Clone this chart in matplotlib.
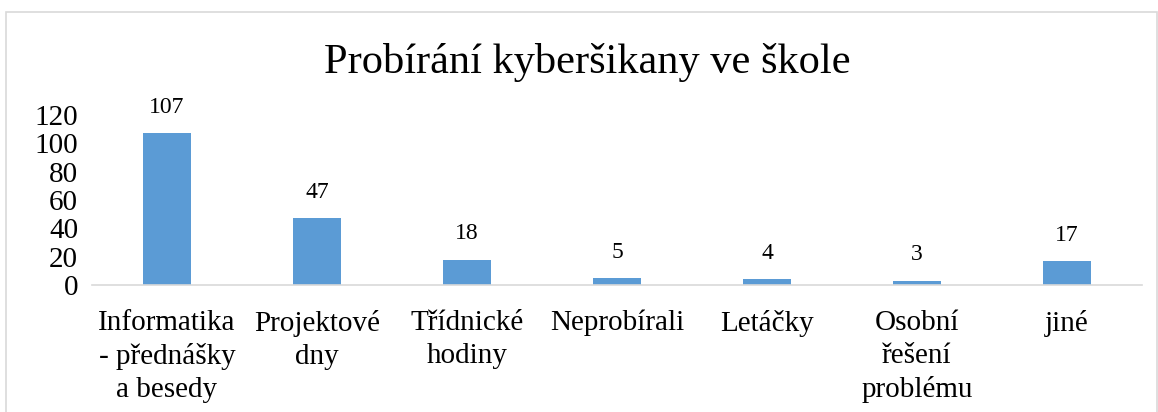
import matplotlib
matplotlib.use("Agg")
import matplotlib.pyplot as plt
from matplotlib.patches import Rectangle

categories = ["Informatika\n- přednášky\na besedy", "Projektové\ndny", "Třídnické\nhodiny",
              "Neprobírali", "Letáčky", "Osobní\nřešení\nproblému", "jiné"]
values = [107, 47, 18, 5, 4, 3, 17]
yticks = [0, 20, 40, 60, 80, 100, 120]

plt.rcParams['font.family'] = ['Liberation Serif', 'DejaVu Serif']

W, H = 1158, 412
fig = plt.figure(figsize=(W / 100, H / 100), dpi=100)

# chart border
fig.patches.append(Rectangle((6 / W, -0.1), (1157 - 6) / W, (H - 12) / H + 0.1,
                             transform=fig.transFigure, fill=False,
                             edgecolor='#d9d9d9', linewidth=1.2))

ax = fig.add_axes([92 / W, 127 / H, (1142 - 92) / W, 170 / H])
x = list(range(len(values)))
bars = ax.bar(x, values, width=0.32, color='#5B9BD5')
ax.set_xlim(-0.5, len(values) - 0.5)
ax.set_ylim(0, 120)
ax.set_yticks(yticks)
ax.set_yticklabels([str(t) for t in yticks], fontsize=21)
ax.set_xticks(x)
ax.set_xticklabels(categories, fontsize=21, linespacing=1.34)
ax.tick_params(axis='both', length=0)
ax.tick_params(axis='x', pad=18)
ax.tick_params(axis='y', pad=10)
for s in ['top', 'right', 'left']:
    ax.spines[s].set_visible(False)
ax.spines['bottom'].set_color('#d9d9d9')
ax.spines['bottom'].set_linewidth(1.2)

for xi, v in zip(x, values):
    ax.annotate(str(v), (xi, v), xytext=(0, 11), textcoords='offset points',
                ha='center', va='bottom', fontsize=17)

fig.text(587 / W, 1 - 62 / H, "Probírání kyberšikany ve škole", ha='center', va='center',
         fontsize=30.5)

fig.savefig("out.png", dpi=100)
